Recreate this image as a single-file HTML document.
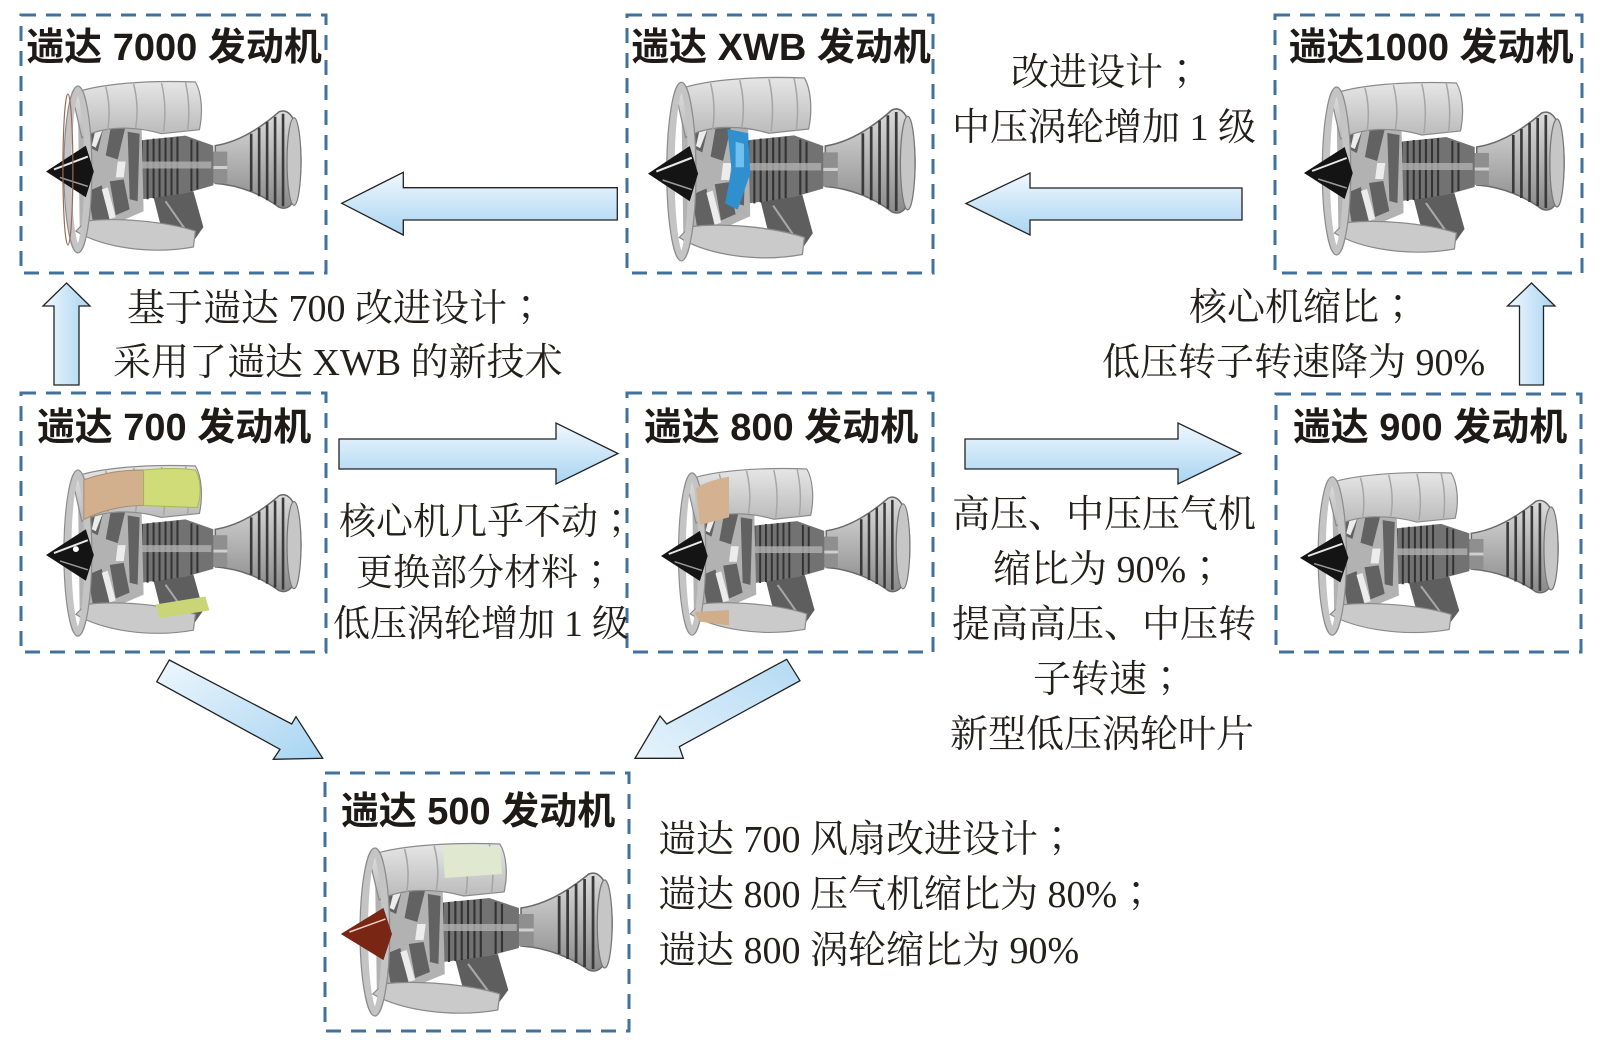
<!DOCTYPE html>
<html>
<head>
<meta charset="utf-8">
<style>
html,body{margin:0;padding:0;background:#fff;}
svg{display:block;}
.t{font-family:"Liberation Sans","Noto Sans CJK SC",sans-serif;font-weight:bold;font-size:38px;fill:#1e1a18;}
.b{font-family:"Liberation Serif","Noto Serif CJK SC",serif;font-size:38px;fill:#231f1c;}
.m{font-size:37px;}
.s{font-family:"Noto Serif CJK TC","Noto Serif CJK SC",serif;}
</style>
</head>
<body>
<svg width="1600" height="1048" viewBox="0 0 1600 1048" xmlns="http://www.w3.org/2000/svg">
<defs>
  <linearGradient id="gv" x1="0" y1="0" x2="0" y2="1">
    <stop offset="0" stop-color="#f1f8fe"/><stop offset="1" stop-color="#a8d4f2"/>
  </linearGradient>
  <linearGradient id="gh" x1="0" y1="0" x2="1" y2="0">
    <stop offset="0" stop-color="#f1f8fe"/><stop offset="1" stop-color="#a8d4f2"/>
  </linearGradient>
  <linearGradient id="gd1" x1="0" y1="0" x2="1" y2="1">
    <stop offset="0" stop-color="#eef7fd"/><stop offset="1" stop-color="#a8d4f2"/>
  </linearGradient>
  <linearGradient id="gd2" x1="1" y1="0" x2="0" y2="1">
    <stop offset="0" stop-color="#b4daf3"/><stop offset="1" stop-color="#e6f3fc"/>
  </linearGradient>
  <linearGradient id="ge" x1="0" y1="0" x2="0" y2="1">
    <stop offset="0" stop-color="#dcdcdc"/><stop offset="1" stop-color="#8a8a8a"/>
  </linearGradient>
  <linearGradient id="gc" x1="0" y1="0" x2="0" y2="1">
    <stop offset="0" stop-color="#e6e6e6"/><stop offset="1" stop-color="#b8b8b8"/>
  </linearGradient>
  <g id="eng">
    <!-- exhaust bell -->
    <path d="M170,64 C196,60 218,44 234,30 C248,24 256,50 256,80 C256,110 248,132 234,126 C218,114 196,104 170,102 Z" fill="url(#ge)" stroke="#6a6a6a" stroke-width="1.5"/>
    <g stroke="#3a3a3a" stroke-width="2.6">
      <line x1="206" y1="52" x2="206" y2="110"/>
      <line x1="214" y1="46" x2="214" y2="115"/>
      <line x1="222" y1="40" x2="222" y2="119"/>
      <line x1="230" y1="35" x2="230" y2="123"/>
      <line x1="238" y1="32" x2="238" y2="125"/>
    </g>
    <ellipse cx="249" cy="80" rx="7" ry="44" fill="#c6c6c6" stroke="#777" stroke-width="1.2"/>
    <!-- shaft -->
    <rect x="158" y="70" width="24" height="32" fill="#8f8f8f"/>
    <line x1="158" y1="86" x2="182" y2="86" stroke="#cfcfcf" stroke-width="3"/>
    <!-- accessories -->
    <path d="M108,116 L148,110 L158,146 L144,166 L122,164 L114,140 Z" fill="#5e5e5e"/>
    <line x1="120" y1="120" x2="148" y2="160" stroke="#a8a8a8" stroke-width="2"/>
    <!-- core -->
    <path d="M82,60 L140,54 L168,64 L168,104 L140,112 L82,120 Z" fill="#727272"/>
    <g stroke="#333" stroke-width="2">
      <line x1="96" y1="59" x2="96" y2="118"/>
      <line x1="102" y1="58" x2="102" y2="118"/>
      <line x1="108" y1="57" x2="108" y2="117"/>
      <line x1="114" y1="57" x2="114" y2="116"/>
      <line x1="120" y1="56" x2="120" y2="115"/>
      <line x1="126" y1="56" x2="126" y2="114"/>
      <line x1="132" y1="55" x2="132" y2="113"/>
      <line x1="146" y1="58" x2="146" y2="110"/>
      <line x1="152" y1="60" x2="152" y2="108"/>
    </g>
    <rect x="96" y="80" width="70" height="7" fill="#b0b0b0" opacity="0.8"/>
    <!-- fan blades -->
    <path d="M32,20 L96,46 L98,130 L34,158 Z" fill="#b2b2b2"/>
    <g fill="#626262">
      <path d="M44,30 L60,36 L52,70 L40,64 Z"/>
      <path d="M66,40 L80,44 L72,78 L60,74 Z"/>
      <path d="M42,110 L56,104 L64,140 L48,146 Z"/>
      <path d="M64,100 L78,98 L84,128 L70,134 Z"/>
      <path d="M82,50 L94,52 L92,120 L84,118 Z"/>
    </g>
    <g fill="#ececec">
      <path d="M52,38 L60,40 L50,66 L46,64 Z"/>
      <path d="M56,108 L62,106 L70,136 L64,138 Z"/>
      <path d="M72,80 L80,80 L78,96 L70,96 Z"/>
    </g>
    <!-- top cowl -->
    <path d="M26,12 C50,2 100,-2 150,0 C156,10 158,30 154,48 L116,52 C88,44 58,44 36,56 Z" fill="url(#gc)" stroke="#8a8a8a" stroke-width="1.2"/>
    <g fill="none" stroke="#a6a6a6" stroke-width="1.5">
      <path d="M60,5 C64,20 64,36 62,48"/>
      <path d="M88,2 C92,18 92,34 90,46"/>
      <path d="M116,1 C120,18 120,36 118,50"/>
      <path d="M140,0 C144,18 144,36 142,50"/>
    </g>
    <!-- bottom cowl -->
    <path d="M30,150 C56,166 104,174 148,166 L150,150 C120,140 70,136 40,140 Z" fill="#cacaca" stroke="#8a8a8a" stroke-width="1.2"/>
    <!-- lip -->
    <ellipse cx="32" cy="88" rx="10" ry="80" fill="none" stroke="#c4c4c4" stroke-width="7"/>
    <ellipse cx="32" cy="88" rx="14" ry="84" fill="none" stroke="#8c8c8c" stroke-width="1.2"/>
    <!-- spinner -->
    <path d="M0,90 L40,64 L48,90 L40,116 Z" fill="#141414"/>
    <path d="M8,88 L42,75" stroke="#e8e8e8" stroke-width="2"/>
    <path d="M14,96 L42,105" stroke="#9a9a9a" stroke-width="1.5"/>
  </g>
</defs>

<rect width="1600" height="1048" fill="#fff"/>

<!-- Dashed boxes -->
<g fill="none" stroke="#41719d" stroke-width="3" stroke-dasharray="15 10">
  <rect x="21" y="15" width="305" height="258"/>
  <rect x="627" y="15" width="306" height="258"/>
  <rect x="1275" y="15" width="307" height="258"/>
  <rect x="21" y="393" width="305" height="259"/>
  <rect x="627" y="393" width="306" height="259"/>
  <rect x="1276" y="394" width="305" height="258"/>
  <rect x="325" y="773" width="304" height="258"/>
</g>

<!-- Engines -->
<g transform="translate(46,82) scale(0.996,0.994)">
  <use href="#eng"/>
  <ellipse cx="22" cy="88" rx="5" ry="76" fill="none" stroke="#9a6a56" stroke-width="1.2"/>
</g>
<g transform="translate(648,78) scale(1.043,1.063)">
  <use href="#eng"/>
  <path d="M76,48 L96,52 L98,90 L86,124 L74,118 L80,86 Z" fill="#2f8fcf"/>
  <path d="M84,60 L92,62 L92,84 L84,84 Z" fill="#6fc0ee"/>
</g>
<g transform="translate(1304,83) scale(1.016,1)">
  <use href="#eng"/>
</g>
<g transform="translate(46,466) scale(0.996,0.989)">
  <use href="#eng"/>
  <path d="M38,14 C60,6 80,4 98,4 L98,40 C78,40 58,44 38,54 Z" fill="#d2b08e" stroke="#a88a6c" stroke-width="1"/>
  <path d="M98,4 C118,2 136,2 150,4 C156,14 156,30 152,42 L98,40 Z" fill="#cfdc78" stroke="#a8b45a" stroke-width="1"/>
  <path d="M110,140 L160,132 L164,146 L114,154 Z" fill="#c8d678"/>
  <circle cx="30" cy="84" r="3" fill="#fff"/>
</g>
<g transform="translate(661,469) scale(0.972,0.966)">
  <use href="#eng"/>
  <path d="M36,20 C44,14 58,10 70,8 L70,50 L40,58 Z" fill="#d4b291"/>
  <path d="M34,148 L70,146 L70,162 L40,158 Z" fill="#d0ae8c"/>
</g>
<g transform="translate(1300,473) scale(1.008,0.943)">
  <use href="#eng"/>
</g>
<g transform="translate(341,844) scale(1.059,1)">
  <use href="#eng"/>
  <path d="M0,90 L40,64 L48,90 L40,116 Z" fill="#7a2614"/>
  <path d="M8,88 L42,75" stroke="#f0d0c0" stroke-width="1.5"/>
  <path d="M96,2 C120,0 140,2 150,4 L152,30 L98,34 Z" fill="#e0e8d0"/>
</g>

<!-- Arrows -->
<g stroke="#222" stroke-width="1.3" stroke-linejoin="miter">
  <polygon fill="url(#gv)" points="341.7,203.3 403.3,172.3 403.3,187.7 617.3,187.7 617.3,220 403.3,220 403.3,235"/>
  <polygon fill="url(#gv)" points="966,203.5 1030,173 1030,188 1242,188 1242,220 1030,220 1030,235"/>
  <polygon fill="url(#gh)" points="66.5,283 90,306 79,306 79,385 54,385 54,306 43,306"/>
  <polygon fill="url(#gh)" points="1531.5,283 1555,306 1543.5,306 1543.5,385 1519.5,385 1519.5,306 1507.5,306"/>
  <polygon fill="url(#gv)" points="339,439 556,439 556,423 618,453.5 556,484 556,469 339,469"/>
  <polygon fill="url(#gv)" points="965,439 1178,439 1178,423 1241,453.5 1178,484 1178,469 965,469"/>
  <polygon fill="url(#gd1)" points="169.3,660 291.7,724 296,716.7 322.7,758.3 273.3,759.3 280,749.3 156.7,681.7"/>
  <polygon fill="url(#gd2)" points="786.7,659.3 666.7,724 660,716 635,758.3 683.3,758.3 679.3,746.7 800,680.7"/>
</g>

<!-- Titles -->
<g class="t" text-anchor="middle">
  <text x="174" y="60">遄达 7000 发动机</text>
  <text x="781" y="60">遄达 XWB 发动机</text>
  <text x="1431" y="60">遄达1000 发动机</text>
  <text x="174" y="440">遄达 700 发动机</text>
  <text x="781" y="440">遄达 800 发动机</text>
  <text x="1430" y="440">遄达 900 发动机</text>
  <text x="478" y="824">遄达 500 发动机</text>
</g>

<!-- Body text -->
<g class="b">
  <text x="127" y="321">基于遄达 700 改进设计<tspan class="s">；</tspan></text>
  <text x="113" y="375">采用了遄达 XWB 的新技术</text>

  <text x="1011" y="85">改进设计<tspan class="s">；</tspan></text>
  <text x="952" y="140">中压涡轮增加 1 级</text>

  <text x="1189" y="320">核心机缩比<tspan class="s">；</tspan></text>
  <text x="1102" y="375">低压转子转速降为 90%</text>

  <text class="m" x="339" y="534">核心机几乎不动<tspan class="s">；</tspan></text>
  <text class="m" x="356" y="585">更换部分材料<tspan class="s">；</tspan></text>
  <text class="m" x="333" y="636">低压涡轮增加 1 级</text>

  <text x="952" y="527">高压、中压压气机</text>
  <text x="993" y="582">缩比为 90%<tspan class="s">；</tspan></text>
  <text x="952" y="637">提高高压、中压转</text>
  <text x="1033" y="692">子转速<tspan class="s">；</tspan></text>
  <text x="950" y="747">新型低压涡轮叶片</text>

  <text x="658" y="852">遄达 700 风扇改进设计<tspan class="s">；</tspan></text>
  <text x="658" y="907">遄达 800 压气机缩比为 80%<tspan class="s">；</tspan></text>
  <text x="658" y="963">遄达 800 涡轮缩比为 90%</text>
</g>
</svg>
</body>
</html>
